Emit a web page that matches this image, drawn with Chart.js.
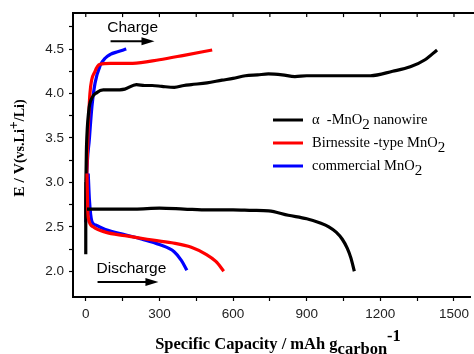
<!DOCTYPE html>
<html>
<head>
<meta charset="utf-8">
<script src="https://cdn.jsdelivr.net/npm/chart.js@4.4.1/dist/chart.umd.min.js"></script>
<style>
  html, body { margin: 0; padding: 0; background: #fff; }
  #wrap { width: 474px; height: 354px; }
</style>
</head>
<body>
<div id="wrap"><canvas id="c" width="474" height="354"></canvas></div>
<script>
// ---- Data (capacity in mAh/g_carbon, potential in V) ----
const seriesNames = ['\u03b1  -MnO|2| nanowire', 'Birnessite -type MnO|2|', 'commercial MnO|2|'];
const seriesColors = ['#000000', '#ff0000', '#0000ff'];

const nanowireChargeX = [0, 0, 3, 12, 25, 45, 71, 110, 159, 206, 240, 270, 310, 361, 400, 430, 494, 555, 600, 650, 700, 744, 800, 852, 900, 1000, 1100, 1160, 1250, 1322, 1382, 1431];
const nanowireChargeY = [2.19, 3.0, 3.4, 3.8, 3.95, 4.01, 4.04, 4.04, 4.05, 4.10, 4.09, 4.09, 4.08, 4.07, 4.09, 4.10, 4.12, 4.15, 4.17, 4.20, 4.21, 4.22, 4.21, 4.19, 4.20, 4.20, 4.20, 4.20, 4.25, 4.30, 4.38, 4.49];
const nanowireDischargeX = [5, 100, 200, 300, 400, 500, 600, 680, 745, 825, 900, 958, 990, 1020, 1045, 1065, 1080, 1094];
const nanowireDischargeY = [2.70, 2.70, 2.70, 2.71, 2.70, 2.69, 2.69, 2.685, 2.68, 2.63, 2.59, 2.54, 2.50, 2.44, 2.36, 2.26, 2.15, 2.00];

const birnChargeX = [0, 3, 10, 17, 38, 58, 100, 191, 300, 400, 515];
const birnChargeY = [2.6, 3.0, 3.6, 4.0, 4.25, 4.33, 4.34, 4.34, 4.38, 4.43, 4.49];
const birnDischargeX = [5, 8, 12, 30, 80, 160, 250, 350, 430, 490, 530, 562];
const birnDischargeY = [3.1, 2.7, 2.58, 2.50, 2.44, 2.40, 2.36, 2.32, 2.27, 2.19, 2.11, 2.00];

const commChargeX = [0, 3, 15, 25, 38, 58, 80, 100, 130, 165];
const commChargeY = [2.55, 3.0, 3.5, 3.85, 4.12, 4.31, 4.40, 4.44, 4.47, 4.50];
const commDischargeX = [10, 15, 25, 40, 80, 160, 230, 300, 360, 390, 412];
const commDischargeY = [3.1, 2.8, 2.56, 2.52, 2.47, 2.41, 2.36, 2.30, 2.22, 2.12, 2.01];

const xTickValues = [0, 150, 300, 450, 600, 750, 900, 1050, 1200, 1350, 1500];
const xTickLabels = ['0', '', '300', '', '600', '', '900', '', '1200', '', '1500'];
const yTickValues = [2.0, 2.25, 2.5, 2.75, 3.0, 3.25, 3.5, 3.75, 4.0, 4.25, 4.5, 4.75];
const yTickLabels = ['2.0', '', '2.5', '', '3.0', '', '3.5', '', '4.0', '', '4.5', ''];

const xRange = [-52, 1568];
const yRange = [1.71, 4.905];

// annotation positions in data units
const chargeNote = { text: 'Charge', x: 191, y: 4.745, arrowFrom: 101, arrowTo: 280, arrowY: 4.588 };
const dischargeNote = { text: 'Discharge', x: 186, y: 2.03, arrowFrom: 48, arrowTo: 296, arrowY: 1.88 };

function pts(xs, ys) { return xs.map((x, i) => ({ x: x, y: ys[i] })); }

function ds(xs, ys, color) {
  return {
    data: pts(xs, ys),
    borderColor: color,
    backgroundColor: color,
    borderWidth: 3.2,
    pointRadius: 0,
    cubicInterpolationMode: 'monotone',
    fill: false,
    borderCapStyle: 'butt',
    borderJoinStyle: 'round'
  };
}

const datasets = [
  ds(nanowireDischargeX, nanowireDischargeY, seriesColors[0]),
  ds(birnDischargeX, birnDischargeY, seriesColors[1]),
  ds(commDischargeX, commDischargeY, seriesColors[2]),
  ds(nanowireChargeX, nanowireChargeY, seriesColors[0]),
  ds(birnChargeX, birnChargeY, seriesColors[1]),
  ds(commChargeX, commChargeY, seriesColors[2])
];

// draw text with |sub| segments: pieces separated by '|', odd ones are subscripts
function drawRich(ctx, str, x, y, size, family, weight, subSize, subShift) {
  const parts = str.split('|');
  let cx = x;
  parts.forEach((p, i) => {
    const isSub = i % 2 === 1;
    ctx.font = `${weight} ${isSub ? subSize : size}px ${family}`;
    ctx.fillText(p, cx, isSub ? y + subShift : y);
    cx += ctx.measureText(p).width;
  });
  return cx;
}

const decorPlugin = {
  id: 'decor',
  afterDraw(chart) {
    const ctx = chart.ctx;
    const a = chart.chartArea;
    const xs = chart.scales.x, ys = chart.scales.y;
    ctx.save();
    // top frame + inward ticks
    ctx.strokeStyle = '#000';
    ctx.lineWidth = 2;
    ctx.beginPath();
    ctx.moveTo(a.left - 1, a.top);
    ctx.lineTo(chart.width, a.top);
    ctx.stroke();
    ctx.lineWidth = 1.2;
    xTickValues.forEach(v => {
      const px = xs.getPixelForValue(v);
      ctx.beginPath();
      ctx.moveTo(px, a.top);
      ctx.lineTo(px, a.top + 4);
      ctx.stroke();
    });

    // legend
    const legX = 273, legLen = 30, legY0 = 120, legDy = 23;
    ctx.textBaseline = 'middle';
    ctx.fillStyle = '#000';
    seriesNames.forEach((name, i) => {
      const y = legY0 + i * legDy;
      ctx.strokeStyle = seriesColors[i];
      ctx.lineWidth = 3;
      ctx.beginPath();
      ctx.moveTo(legX, y);
      ctx.lineTo(legX + legLen, y);
      ctx.stroke();
      ctx.fillStyle = '#000';
      drawRich(ctx, name, legX + 39, y, 14.5, '"Liberation Serif", "Times New Roman", serif', 'normal', 15, 5);
    });

    // annotations
    ctx.fillStyle = '#000';
    ctx.strokeStyle = '#000';
    [chargeNote, dischargeNote].forEach(n => {
      ctx.font = '15.5px "Liberation Sans", Arial, sans-serif';
      ctx.textAlign = 'center';
      ctx.textBaseline = 'middle';
      ctx.fillText(n.text, xs.getPixelForValue(n.x), ys.getPixelForValue(n.y));
      const ay = ys.getPixelForValue(n.arrowY);
      const x1 = xs.getPixelForValue(n.arrowFrom), x2 = xs.getPixelForValue(n.arrowTo);
      ctx.lineWidth = 2;
      ctx.beginPath();
      ctx.moveTo(x1, ay);
      ctx.lineTo(x2 - 10, ay);
      ctx.stroke();
      ctx.beginPath();
      ctx.moveTo(x2, ay);
      ctx.lineTo(x2 - 13, ay - 4);
      ctx.lineTo(x2 - 13, ay + 4);
      ctx.closePath();
      ctx.fill();
    });

    // y axis title (rotated)
    const serifB = '"Liberation Serif", "Times New Roman", serif';
    ctx.save();
    ctx.translate(20, (a.top + a.bottom) / 2 - 7);
    ctx.rotate(-Math.PI / 2);
    ctx.textAlign = 'left';
    ctx.textBaseline = 'middle';
    const partsY = [
      { t: 'E / V', f: `bold 15.5px ${serifB}`, dy: 0 },
      { t: '(vs.Li', f: `bold 14px ${serifB}`, dy: 0 },
      { t: '+', f: `bold 14px ${serifB}`, dy: -6 },
      { t: '/Li)', f: `bold 14px ${serifB}`, dy: 0 }
    ];
    let tw = 0;
    partsY.forEach(p => { ctx.font = p.f; tw += ctx.measureText(p.t).width; });
    let cx = -tw / 2;
    partsY.forEach(p => { ctx.font = p.f; ctx.fillText(p.t, cx, p.dy); cx += ctx.measureText(p.t).width; });
    ctx.restore();

    // x axis title
    ctx.textAlign = 'left';
    ctx.textBaseline = 'middle';
    const partsX = [
      { t: 'Specific Capacity / mAh g', f: `bold 16.5px ${serifB}`, dy: 0 },
      { t: 'carbon', f: `bold 16.5px ${serifB}`, dy: 5 },
      { t: '-1', f: `bold 16.5px ${serifB}`, dy: -8 }
    ];
    let w2 = 0;
    partsX.forEach(p => { ctx.font = p.f; w2 += ctx.measureText(p.t).width; });
    let x0 = 278 - w2 / 2;
    partsX.forEach(p => { ctx.font = p.f; ctx.fillText(p.t, x0, 345 + p.dy); x0 += ctx.measureText(p.t).width; });

    ctx.restore();
  }
};

const tickFont = { family: '"Liberation Sans", Arial, sans-serif', size: 13.5 };

new Chart(document.getElementById('c'), {
  type: 'line',
  data: { datasets: datasets },
  options: {
    responsive: false,
    animation: false,
    layout: { padding: { top: 13, right: 0, left: 0, bottom: 0 } },
    plugins: { legend: { display: false }, tooltip: { enabled: false } },
    scales: {
      x: {
        type: 'linear',
        min: xRange[0], max: xRange[1],
        afterBuildTicks: s => { s.ticks = xTickValues.map(v => ({ value: v })); },
        afterFit: s => { s.height = 57; },
        ticks: {
          autoSkip: false, maxRotation: 0, padding: 5, color: '#222', font: tickFont,
          callback: (v, i) => xTickLabels[i]
        },
        grid: { drawOnChartArea: false, drawTicks: true, tickLength: 4, tickColor: '#000', tickWidth: 1.2 },
        border: { display: true, color: '#000', width: 2 }
      },
      y: {
        type: 'linear',
        min: yRange[0], max: yRange[1],
        afterBuildTicks: s => { s.ticks = yTickValues.map(v => ({ value: v })); },
        afterFit: s => { s.width = 73; },
        ticks: {
          autoSkip: false, padding: 5, color: '#222', font: tickFont,
          callback: (v, i) => yTickLabels[i]
        },
        grid: { drawOnChartArea: false, drawTicks: true, tickLength: 4, tickColor: '#000', tickWidth: 1.2 },
        border: { display: true, color: '#000', width: 2 }
      }
    }
  },
  plugins: [decorPlugin]
});
</script>
</body>
</html>
